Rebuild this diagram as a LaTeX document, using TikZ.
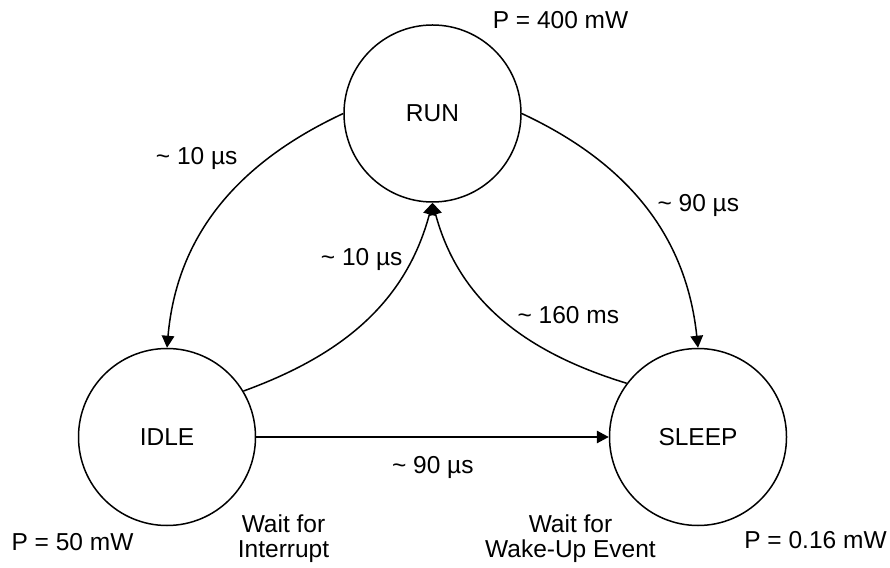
\documentclass[tikz,border=0pt]{standalone}
\usepackage{fontspec}
\setmainfont{Liberation Sans}
\usetikzlibrary{arrows.meta}
\newcommand{\approxsym}{\textasciitilde}
\begin{document}
\begin{tikzpicture}[x=1pt,y=1pt,
  state/.style={circle,draw,line width=1.5pt,minimum size=177pt,inner sep=0pt,
    font=\fontsize{24.5}{24.5}\selectfont},
  lbl/.style={inner sep=0pt,anchor=base,font=\fontsize{24.5}{24.5}\selectfont},
  note/.style={inner sep=0pt,anchor=base,align=center,
    font=\fontsize{24.5}{25}\selectfont},
  trans/.style={line width=1.5pt,-{Triangle[length=12pt,width=12.5pt]}}]
\useasboundingbox (0,0) rectangle (890,567);

% states
\node[state] (run)   at (432.5,453.5) {RUN};
\node[state] (idle)  at (167,130)     {IDLE};
\node[state] (sleep) at (698,130)     {SLEEP};

% transitions
\draw[trans] (run.west) to[out=205,in=85] (idle.north);
\draw[trans] (idle.31.5) to[out=20,in=255] (run.south);
\draw[trans] (sleep.143) to[out=163,in=285] (run.south);
\draw[trans] (run.east) to[out=335,in=96] (sleep.north);
\draw[trans] (idle.east) -- (sleep.west);

% transition times
\node[lbl] (t1) at (196.7,402.7) {\approxsym{} 10 µs};
\node[lbl] (t2) at (361.7,301)   {\approxsym{} 10 µs};
\node[lbl] (t3) at (698.3,355.3) {\approxsym{} 90 µs};
\node[lbl] (t4) at (568.3,243)   {\approxsym{} 160 ms};
\node[lbl] (t5) at (432.8,93.7)  {\approxsym{} 90 µs};

% power figures
\node[lbl] (p1) at (560.5,538.7) {P = 400 mW};
\node[lbl] (p2) at (72.5,17)     {P = 50 mW};
\node[lbl] (p3) at (815.5,18.7)  {P = 0.16 mW};

% wake-up conditions (base anchor sits on the last line)
\node[note] (w1) at (283.5,10) {Wait for\\Interrupt};
\node[note] (w2) at (570.5,10) {Wait for\\Wake-Up Event};
\end{tikzpicture}
\end{document}
